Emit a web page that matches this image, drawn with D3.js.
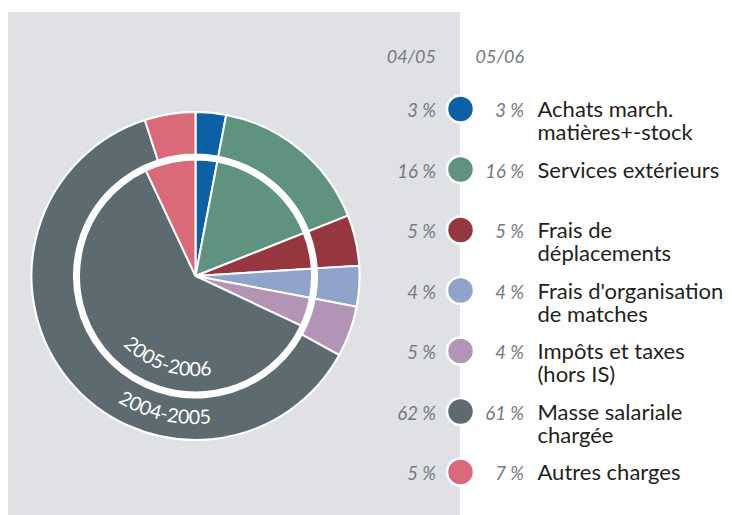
<!DOCTYPE html>
<html>
<head>
<meta charset="utf-8">
<script src="https://cdn.jsdelivr.net/npm/d3@7"></script>
<style>
  body { margin: 0; background: #fff; }
  svg { display: block; }
</style>
</head>
<body>
<svg id="chart" width="732" height="515"></svg>
<script>
// Data
const categories = [
  ['Achats march.', 'matières+-stock'],
  ['Services extérieurs'],
  ['Frais de', 'déplacements'],
  ["Frais d'organisation", 'de matches'],
  ['Impôts et taxes', '(hors IS)'],
  ['Masse salariale', 'chargée'],
  ['Autres charges']
];
const values0405 = [3, 16, 5, 4, 5, 62, 5];
const values0506 = [3, 16, 5, 4, 4, 61, 7];
const seriesLabels = ['04/05', '05/06'];
const ringLabels = ['2004-2005', '2005-2006'];

const colors = ['#0b60a6', '#5f9380', '#96363f', '#8fa3cb', '#b194b6', '#5d6b70', '#db6a79'];

const svg = d3.select('#chart');

// Grey panel behind the pie
svg.append('rect')
  .attr('x', 8).attr('y', 12)
  .attr('width', 452).attr('height', 515)
  .attr('fill', '#e0e1e5');

const cx = 195.5, cy = 276;
const g = svg.append('g').attr('transform', `translate(${cx},${cy})`);

const pie = d3.pie().value(d => d).sort(null);

// white disk gives the outer edge and the gap between the rings
g.append('circle').attr('r', 165).attr('fill', '#fff');

const outerArc = d3.arc().innerRadius(121.5).outerRadius(164);
const innerArc = d3.arc().innerRadius(0).outerRadius(116.5);

g.selectAll('path.outer')
  .data(pie(values0405))
  .join('path')
  .attr('class', 'outer')
  .attr('d', outerArc)
  .attr('fill', (d, i) => colors[i])
  .attr('stroke', '#fff')
  .attr('stroke-width', 2);

g.selectAll('path.inner')
  .data(pie(values0506))
  .join('path')
  .attr('class', 'inner')
  .attr('d', innerArc)
  .attr('fill', (d, i) => colors[i])
  .attr('stroke', '#fff')
  .attr('stroke-width', 2);

// Curved year labels along the bottom of each ring
function bottomArc(r, mid, span) {
  const a0 = (mid + span) * Math.PI / 180, a1 = (mid - span) * Math.PI / 180;
  const x0 = r * Math.sin(a0), y0 = -r * Math.cos(a0);
  const x1 = r * Math.sin(a1), y1 = -r * Math.cos(a1);
  return `M${x0},${y0} A${r},${r} 0 0 0 ${x1},${y1}`;
}
const ringText = [
  { id: 'ring-outer', r: 148, mid: 192.8, label: ringLabels[0] },
  { id: 'ring-inner', r: 100, mid: 198.5, label: ringLabels[1] }
];
ringText.forEach(t => {
  g.append('path').attr('id', t.id).attr('d', bottomArc(t.r, t.mid, 70)).attr('fill', 'none');
  g.append('text')
    .attr('font-family', 'Lato, sans-serif')
    .attr('font-size', 19.5)
    .attr('fill', '#fff')
    .append('textPath')
    .attr('href', '#' + t.id)
    .attr('startOffset', '50%')
    .attr('text-anchor', 'middle')
    .text(t.label);
});

// Legend
const rowY = d3.scalePoint().domain(d3.range(categories.length)).range([109, 472]);
const col04 = 436, col05 = 524, dotX = 460.5, labelX = 537.5;

svg.append('g').selectAll('text')
  .data(seriesLabels)
  .join('text')
  .attr('x', (d, i) => i === 0 ? col04 : col05)
  .attr('y', 63)
  .attr('text-anchor', 'end')
  .attr('font-family', 'Lato, sans-serif')
  .attr('font-style', 'italic')
  .attr('font-size', 18)
  .attr('fill', '#76797d')
  .text(d => d);

const rows = svg.append('g').selectAll('g')
  .data(categories)
  .join('g')
  .attr('transform', (d, i) => `translate(0,${rowY(i)})`);

rows.append('circle')
  .attr('cx', dotX)
  .attr('r', 13.5)
  .attr('fill', (d, i) => colors[i])
  .attr('stroke', '#fff')
  .attr('stroke-width', 2.5);

rows.append('text')
  .attr('x', col04).attr('y', 8)
  .attr('text-anchor', 'end')
  .attr('font-family', 'Lato, sans-serif')
  .attr('font-style', 'italic')
  .attr('font-size', 18.5)
  .attr('fill', '#76797d')
  .text((d, i) => values0405[i] + ' %');

rows.append('text')
  .attr('x', col05).attr('y', 8)
  .attr('text-anchor', 'end')
  .attr('font-family', 'Lato, sans-serif')
  .attr('font-style', 'italic')
  .attr('font-size', 18.5)
  .attr('fill', '#76797d')
  .text((d, i) => values0506[i] + ' %');

rows.append('text')
  .attr('x', labelX).attr('y', 8)
  .attr('font-family', 'Lato, sans-serif')
  .attr('font-size', 22)
  .attr('fill', '#231f20')
  .selectAll('tspan')
  .data(d => d)
  .join('tspan')
  .attr('x', labelX)
  .attr('dy', (d, i) => i === 0 ? 0 : 23.4)
  .text(d => d);
</script>
</body>
</html>
